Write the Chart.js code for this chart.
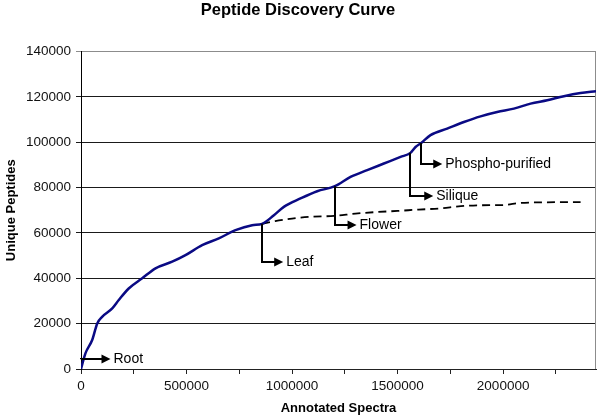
<!DOCTYPE html>
<html>
<head>
<meta charset="utf-8">
<script src="https://cdn.jsdelivr.net/npm/chart.js@4/dist/chart.umd.min.js"></script>
<style>
  html, body { margin: 0; padding: 0; background: #fff; }
  canvas { display: block; }
</style>
</head>
<body>
<canvas id="chart" width="600" height="418"></canvas>
<script>
// all spectra (blue curve)
var spectraX = [0, 21000, 53000, 77000, 100000, 148000, 179000, 226000, 290000, 353000,
                432000, 495000, 574000, 653000, 732000, 811000, 858000, 914000, 961000, 1040000,
                1119000, 1203000, 1277000, 1356000, 1435000, 1514000, 1561000, 1585000, 1612000, 1656000,
                1735000, 1814000, 1893000, 1972000, 2051000, 2130000, 2209000, 2288000, 2367000, 2440000];
var peptidesY = [0, 6900, 12800, 20100, 23000, 26700, 30400, 35500, 40000, 44400,
                 47300, 50200, 54600, 57600, 61200, 63400, 64000, 67800, 71500, 75200,
                 78400, 80600, 84700, 87700, 90600, 93500, 95300, 97900, 99700, 103100,
                 106000, 108900, 111400, 113300, 114800, 117000, 118500, 120300, 121700, 122500];

// leaf-only continuation (dashed)
var leafX = [858000, 920000, 1000000, 1100000, 1200000, 1300000, 1400000, 1500000, 1600000,
             1700000, 1800000, 1900000, 2000000, 2080000, 2200000, 2367000];
var leafY = [64000, 65200, 66300, 67200, 67500, 68500, 69200, 69700, 70300,
             70800, 71800, 72200, 72300, 73200, 73500, 73600];

// tissue markers
var markNames = ['Root', 'Leaf', 'Flower', 'Silique', 'Phospho-purified'];
var markX     = [0, 858000, 1203000, 1561000, 1612000];
var markTopY  = [4300, 64000, 80600, 95300, 99700];
var markLowY  = [4300, 47100, 63700, 76200, 90600];
var markTipX  = [139800, 958000, 1305600, 1669000, 1711700];

var xMax = 2440000, xStep = 250000, xLabelStep = 500000;
var yMax = 140000, yStep = 20000;

function pts(xs, ys){
  var out = [];
  for (var i = 0; i < xs.length; i++) out.push({ x: xs[i], y: ys[i] });
  return out;
}

Chart.defaults.font.family = '"Liberation Sans", Arial, sans-serif';
Chart.defaults.color = '#111';

// gray frame on the right of the plot area
var frame = {
  id: 'frame',
  beforeDatasetsDraw: function(chart){
    var a = chart.chartArea, ctx = chart.ctx;
    ctx.save();
    ctx.strokeStyle = '#8c8c8c';
    ctx.lineWidth = 1;
    ctx.beginPath();
    ctx.moveTo(a.right - 0.5, a.top);
    ctx.lineTo(a.right - 0.5, a.bottom);
    ctx.stroke();
    ctx.restore();
  }
};

// elbow arrows with tissue names
var markers = {
  id: 'markers',
  afterDatasetsDraw: function(chart){
    var ctx = chart.ctx, xs = chart.scales.x, ys = chart.scales.y;
    ctx.save();
    ctx.strokeStyle = '#000';
    ctx.fillStyle = '#000';
    ctx.lineWidth = 2;
    ctx.font = '14px "Liberation Sans", Arial, sans-serif';
    ctx.textBaseline = 'middle';
    ctx.textAlign = 'left';
    for (var i = 0; i < markNames.length; i++){
      var x = Math.round(xs.getPixelForValue(markX[i])),
          y0 = ys.getPixelForValue(markTopY[i]),
          y1 = Math.round(ys.getPixelForValue(markLowY[i])),
          tip = xs.getPixelForValue(markTipX[i]);
      ctx.beginPath();
      ctx.moveTo(x, y0);
      ctx.lineTo(x, y1);
      ctx.lineTo(tip - 8, y1);
      ctx.stroke();
      ctx.beginPath();
      ctx.moveTo(tip, y1);
      ctx.lineTo(tip - 9, y1 - 4.5);
      ctx.lineTo(tip - 9, y1 + 4.5);
      ctx.closePath();
      ctx.fill();
      ctx.fillText(markNames[i], tip + 3, y1 + 0.5);
    }
    ctx.restore();
  }
};

new Chart(document.getElementById('chart').getContext('2d'), {
  type: 'line',
  data: {
    datasets: [
      {
        data: pts(spectraX, peptidesY),
        borderColor: '#0a0a84',
        borderWidth: 2.5,
        pointRadius: 0,
        cubicInterpolationMode: 'monotone',
        fill: false,
        order: 1
      },
      {
        data: pts(leafX, leafY),
        borderColor: '#000',
        borderWidth: 1.8,
        borderDash: [8, 5],
        pointRadius: 0,
        cubicInterpolationMode: 'monotone',
        fill: false,
        order: 2
      }
    ]
  },
  options: {
    responsive: false,
    animation: false,
    devicePixelRatio: 1,
    layout: { padding: { left: 0, right: 4, top: 0, bottom: 0 } },
    plugins: {
      legend: { display: false },
      tooltip: { enabled: false },
      title: {
        display: true,
        text: 'Peptide Discovery Curve',
        color: '#000',
        font: { size: 16.5, weight: 'bold' },
        padding: { top: 1, bottom: 30.7 }
      }
    },
    scales: {
      x: {
        type: 'linear',
        min: 0,
        max: xMax,
        afterFit: function(s){ s.height = 49; },
        afterBuildTicks: function(s){
          var t = [];
          for (var v = 0; v <= xMax; v += xStep) t.push({ value: v });
          s.ticks = t;
        },
        ticks: {
          autoSkip: false,
          maxRotation: 0,
          padding: 4,
          font: { size: 13.5 },
          callback: function(v){ return v % xLabelStep === 0 ? String(v) : ''; }
        },
        grid: { drawOnChartArea: false, drawTicks: true, tickLength: 5, color: '#222' },
        border: { color: '#222', width: 1 },
        title: {
          display: true,
          text: 'Annotated Spectra',
          color: '#000',
          font: { size: 13, weight: 'bold' },
          padding: { top: 0, bottom: 2 }
        }
      },
      y: {
        type: 'linear',
        min: 0,
        max: yMax,
        afterFit: function(s){ s.width = 81; },
        ticks: {
          stepSize: yStep,
          padding: 5,
          font: { size: 13.5 },
          callback: function(v){ return String(v); }
        },
        grid: {
          drawTicks: true,
          tickLength: 5,
          color: function(c){ return c.tick && c.tick.value === yMax ? '#8c8c8c' : '#1a1a1a'; }
        },
        border: { color: '#000', width: 1 },
        title: {
          display: true,
          text: 'Unique Peptides',
          color: '#000',
          font: { size: 13, weight: 'bold' },
          padding: { top: 4, bottom: 0 }
        }
      }
    }
  },
  plugins: [frame, markers]
});
</script>
</body>
</html>
